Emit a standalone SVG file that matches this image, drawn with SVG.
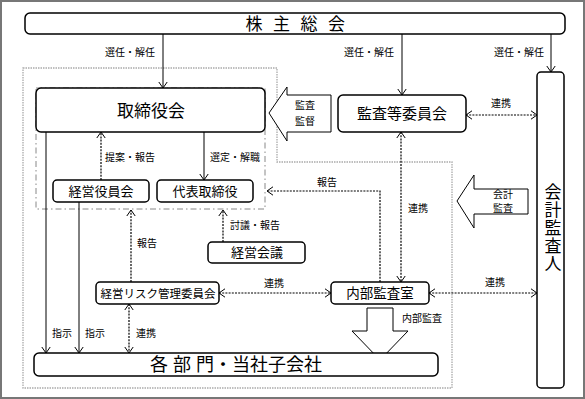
<svg xmlns="http://www.w3.org/2000/svg" width="585" height="399" viewBox="0 0 585 399">
<style>
text{font-family:"Liberation Sans","Noto Sans CJK JP",sans-serif;fill:#000}
.box{fill:#fff;stroke:#000;stroke-width:1.5}
.big{fill:#fff;stroke:#000;stroke-width:1}
.ln{fill:none;stroke:#000;stroke-width:1}
.dot{fill:none;stroke:#000;stroke-width:1.2;stroke-dasharray:2 1.2}
.lbl{font-size:10px}
.t13{font-size:13px;text-anchor:middle}
.m{text-anchor:middle}
</style>
<defs>
<marker id="ah" markerUnits="userSpaceOnUse" markerWidth="7" markerHeight="10" viewBox="0 0 7 10" refX="6.5" refY="5" orient="auto-start-reverse">
<path d="M0.5,0.8 L6.5,5 L0.5,9.2" fill="none" stroke="#000" stroke-width="1"/>
</marker>
</defs>
<rect x="1" y="1" width="583" height="397" fill="#fff" stroke="#777" stroke-width="2"/>
<g id="regions">
<path d="M23,68 H277 V162 H452 V388 H23 Z" fill="none" stroke="#aaa" stroke-width="1.3" stroke-dasharray="1.5 1"/>
<rect x="36" y="88" width="229" height="121" fill="none" stroke="#888" stroke-width="1" stroke-dasharray="6 3 1.5 3"/>
</g>
<g id="connectors">
<line class="ln" x1="163" y1="34" x2="163" y2="88" marker-end="url(#ah)"/>
<line class="ln" x1="402" y1="34" x2="402" y2="95" marker-end="url(#ah)"/>
<line class="ln" x1="551" y1="34" x2="551" y2="72" marker-end="url(#ah)"/>
<line class="ln" x1="204" y1="132" x2="204" y2="180" marker-end="url(#ah)"/>
<line class="dot" x1="101" y1="180" x2="101" y2="132" marker-end="url(#ah)"/>
<line class="ln" x1="46" y1="132" x2="46" y2="353" marker-end="url(#ah)"/>
<line class="ln" x1="79" y1="202" x2="79" y2="353" marker-end="url(#ah)"/>
<line class="dot" x1="131" y1="282" x2="131" y2="210" marker-end="url(#ah)"/>
<line class="dot" x1="223" y1="242" x2="223" y2="210" marker-end="url(#ah)"/>
<line class="dot" x1="219" y1="293" x2="331" y2="293" marker-start="url(#ah)" marker-end="url(#ah)"/>
<line class="dot" x1="429" y1="293" x2="537" y2="293" marker-start="url(#ah)" marker-end="url(#ah)"/>
<line class="dot" x1="129" y1="304" x2="129" y2="353" marker-start="url(#ah)" marker-end="url(#ah)"/>
<line class="dot" x1="401" y1="132" x2="401" y2="282" marker-start="url(#ah)" marker-end="url(#ah)"/>
<line class="dot" x1="466" y1="115" x2="537" y2="115" marker-start="url(#ah)" marker-end="url(#ah)"/>
<polyline class="dot" points="380,282 380,191 267,191" marker-end="url(#ah)"/>
<g class="lbl">
<text x="130" y="56" class="m">選任・解任</text>
<text x="369" y="56" class="m">選任・解任</text>
<text x="519" y="56" class="m">選任・解任</text>
<text x="105" y="161">提案・報告</text>
<text x="210" y="161">選定・解職</text>
<text x="230" y="229">討議・報告</text>
<text x="137" y="247">報告</text>
<text x="327" y="186" class="m">報告</text>
<text x="408" y="212">連携</text>
<text x="501" y="107" class="m">連携</text>
<text x="274" y="287" class="m">連携</text>
<text x="495" y="286" class="m">連携</text>
<text x="402" y="322">内部監査</text>
<text x="52" y="337">指示</text>
<text x="85" y="337">指示</text>
<text x="136" y="337">連携</text>
</g>
</g>
<g id="arrow-kansa-kantoku">
<polygon class="big" points="269,113 287,87 287,95 331,95 331,132 287,132 287,141"/>
<text x="305" y="109" class="lbl m">監査</text>
<text x="305" y="125" class="lbl m">監督</text>
</g>
<g id="arrow-kaikei-kansa">
<polygon class="big" points="457,201 474,175 474,189 528,189 528,214 474,214 474,228"/>
<text x="503" y="198" class="lbl m">会計</text>
<text x="503" y="212" class="lbl m">監査</text>
</g>
<g id="arrow-naibu-kansa">
<polygon class="big" points="367,308 393,308 393,331 408,331 380,360 352,331 367,331"/>
</g>
<g id="kabunushi-sokai">
<rect class="box" x="25" y="13" width="540" height="21" rx="5"/>
<text y="30" style="font-size:17px"><tspan x="254" class="m">株</tspan><tspan x="281.5" class="m">主</tspan><tspan x="309" class="m">総</tspan><tspan x="336.5" class="m">会</tspan></text>
</g>
<g id="torishimariyakukai">
<rect class="box" x="36" y="88" width="229" height="44" rx="5"/>
<text x="151" y="117" class="m" style="font-size:17px">取締役会</text>
</g>
<g id="kansato-iinkai">
<rect class="box" x="338" y="95" width="128" height="37" rx="5"/>
<text x="402" y="119" class="m" style="font-size:15px">監査等委員会</text>
</g>
<g id="kaikei-kansanin">
<rect class="box" x="537" y="72" width="27" height="316" rx="4"/>
<text x="551" y="183" writing-mode="vertical-rl" style="font-size:17px;letter-spacing:1px">会計監査人</text>
</g>
<g id="keiei-yakuinkai">
<rect class="box" x="53" y="180" width="96" height="22" rx="4"/>
<text x="101" y="196" class="t13">経営役員会</text>
</g>
<g id="daihyo-torishimariyaku">
<rect class="box" x="157" y="180" width="96" height="22" rx="4"/>
<text x="205" y="196" class="t13">代表取締役</text>
</g>
<g id="keiei-kaigi">
<rect class="box" x="208" y="242" width="97" height="21" rx="4"/>
<text x="257" y="257" class="t13">経営会議</text>
</g>
<g id="risk-iinkai">
<rect class="box" x="96" y="282" width="123" height="22" rx="4"/>
<text x="158" y="297.5" class="m" style="font-size:11.5px">経営リスク管理委員会</text>
</g>
<g id="naibu-kansashitsu">
<rect class="box" x="331" y="282" width="98" height="22" rx="4"/>
<text x="380" y="298" class="m" style="font-size:13.5px">内部監査室</text>
</g>
<g id="kakubumon">
<rect class="box" x="34" y="353" width="404" height="23" rx="5"/>
<text x="236" y="371" class="m" style="font-size:18px">各 部 門・当社子会社</text>
</g>
</svg>
